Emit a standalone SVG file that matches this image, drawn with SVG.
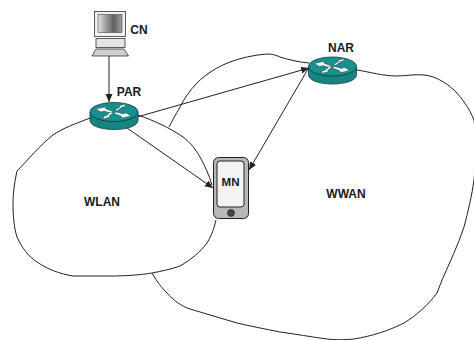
<svg xmlns="http://www.w3.org/2000/svg" width="474" height="340" viewBox="0 0 474 340">
<style>
.l{font:bold 12px "Liberation Sans",Arial,sans-serif;fill:#1a1a1a;text-anchor:middle}
.c{fill:none;stroke:#222;stroke-width:1}
.a{fill:none;stroke:#222;stroke-width:1;marker-end:url(#ah)}
.top{fill:#178f8c;stroke:#0d3a3a;stroke-width:.8}
.side{fill:#148583;stroke:#0d3a3a;stroke-width:.8}
.w{fill:#fff;stroke:#333;stroke-width:.4}
</style>
<defs>
<marker id="ah" markerWidth="9" markerHeight="8" refX="8" refY="3.500" orient="auto" markerUnits="userSpaceOnUse"><path d="M0 0L8 3.500L0 7Z" fill="#222"/></marker>
<g id="router">
<path class="side" d="M-24 -4V4C-24 10 -13 13.500 0 13.500S24 10 24 4V-4Z"/>
<ellipse class="top" cx="0" cy="-4" rx="24" ry="9.500"/>
<path class="w" d="M-18 -7L-9 -9L-8 -7L-1 -4.500L-3 -3L-10 -5L-13 -4Z"/>
<path class="w" d="M18 -1L9 1L8 -1L1 -3.500L3 -5L10 -3L13 -4Z" transform="translate(-1 1)"/>
<path class="w" d="M1 -6L6 -9L5 -10L12 -12L10 -9L8 -9L3 -5Z"/>
<path class="w" d="M-1 -3L-5 0L-4 1L-11 3L-10 0L-8 0L-3 -4Z"/>
</g>
<linearGradient id="scr"><stop offset="0" stop-color="#e2e2e2"/><stop offset=".65" stop-color="#5f5f5f"/><stop offset="1" stop-color="#a0a0a0"/></linearGradient>
</defs>
<g id="connectors">
<path class="c" d="M90 118C75 124 63 128 53 135C40 145 28 160 17 171C14 185 13 195 13 203C13 215 14 228 17 237C22 248 28 256 37 262C47 269 60 274 73 276L110 276C125 276 140 275 152 273C162 271 172 269 180 266C192 259 200 252 207 243C212 235 214 228 216 220"/>
<path class="c" d="M138 115C155 121 170 128 183 137C191 143 196 150 200 157C205 166 209 175 212 185"/>
<path class="c" d="M152 273C157 282 162 288 167 293C173 300 181 306 190 309L237 323C250 326 265 329 280 332C295 334 312 337 327 339C335 340 345 340 354 339C372 336 388 331 404 323C417 315 428 305 437 293L442 280C450 262 458 245 464 227C468 212 472 195 474 180C476 160 476 135 474 120C469 108 462 98 454 90C445 82 435 76 424 75C415 74 405 76 397 76C383 76 370 72 357 70"/>
<path class="c" d="M309 63C298 62 290 60 280 57C276 55 272 54 267 54C253 55 241 58 230 62C217 67 206 74 197 83C190 90 184 99 180 107C176 114 172 121 169 127"/>
<line class="a" x1="109" y1="56" x2="109" y2="102"/>
<line class="a" x1="137" y1="117" x2="309" y2="68"/>
<line class="a" x1="127" y1="128" x2="213" y2="188"/>
<line class="a" x1="308" y1="69" x2="249" y2="170"/>
</g>
<g id="CN">
<rect x="94.500" y="11.500" width="31" height="25" fill="#f0f0f0" stroke="#333" stroke-width=".8"/>
<rect x="98" y="14.500" width="24" height="18" fill="url(#scr)" stroke="#333" stroke-width=".5"/>
<rect x="96" y="38.500" width="29" height="9" fill="#e4e4e4" stroke="#333" stroke-width=".8"/>
<path d="M96 49H124L128.500 56H92Z" fill="#d0d0d0" stroke="#333" stroke-width=".8"/>
<text class="l" x="139" y="34">CN</text>
</g>
<g id="PAR">
<use href="#router" x="114" y="116"/>
<text class="l" x="129" y="96">PAR</text>
</g>
<g id="NAR">
<use href="#router" x="332.500" y="70.500"/>
<text class="l" x="341" y="52">NAR</text>
</g>
<g id="MN">
<rect x="213.500" y="157.500" width="35" height="61" rx="5" fill="#b8b8b8" stroke="#222"/>
<rect x="217" y="161" width="27" height="46" rx="3" fill="#f4f4f4" stroke="#222"/>
<circle cx="231" cy="213" r="3.500" fill="#444" stroke="#222" stroke-width=".6"/>
<text class="l" x="230.500" y="186" style="font-size:11.500px">MN</text>
</g>
<g id="WLAN"><text class="l" x="102" y="206">WLAN</text></g>
<g id="WWAN"><text class="l" x="346" y="198">WWAN</text></g>
</svg>
